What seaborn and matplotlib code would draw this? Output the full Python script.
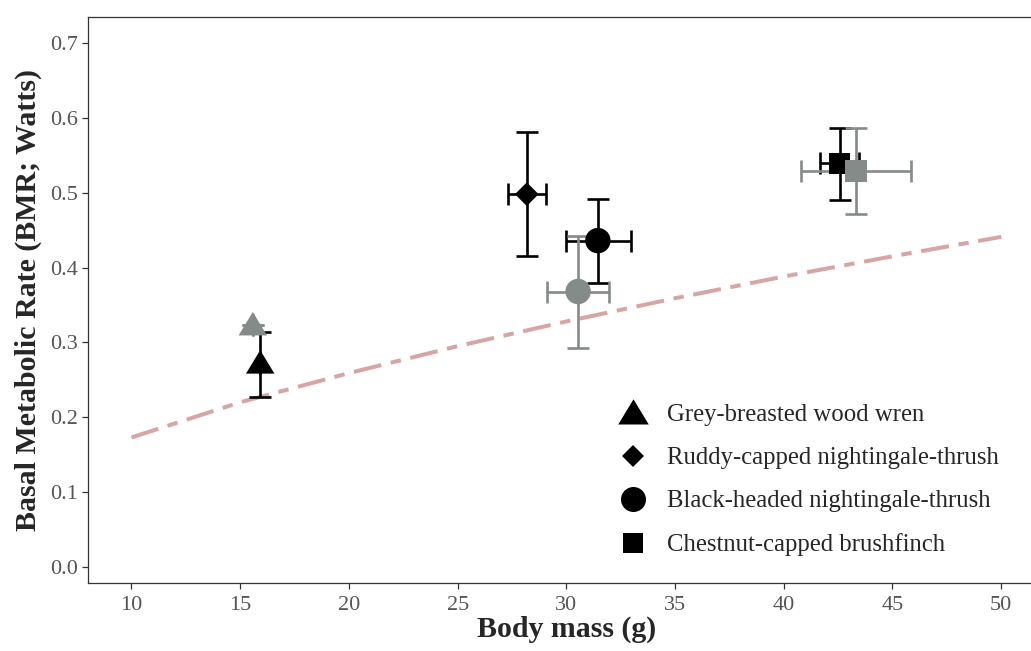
import numpy as np
import pandas as pd
import matplotlib
matplotlib.use("Agg")
import matplotlib.pyplot as plt
import seaborn as sns
from matplotlib.lines import Line2D

# ---------------- data ----------------
species = ["Grey-breasted wood wren", "Ruddy-capped nightingale-thrush",
           "Black-headed nightingale-thrush", "Chestnut-capped brushfinch"]

black_species = species
black_mass = [15.92, 28.18, 31.45, 42.57]
black_mass_lo = [15.92, 27.30, 29.97, 41.65]
black_mass_hi = [15.92, 29.08, 32.99, 43.48]
black_bmr = [0.272, 0.498, 0.436, 0.539]
black_bmr_lo = [0.227, 0.415, 0.379, 0.490]
black_bmr_hi = [0.314, 0.581, 0.492, 0.587]

grey_species = [species[0], species[2], species[3]]
grey_mass = [15.58, 30.54, 43.32]
grey_mass_lo = [15.58, 29.13, 40.79]
grey_mass_hi = [15.58, 31.96, 45.85]
grey_bmr = [0.323, 0.368, 0.529]
grey_bmr_lo = [0.323, 0.293, 0.472]
grey_bmr_hi = [0.323, 0.442, 0.586]

line_mass = [10, 15, 20, 25, 30, 35, 40, 45, 50]
line_bmr = [0.173, 0.220, 0.259, 0.295, 0.328, 0.359, 0.388, 0.415, 0.441]

x_ticks = [10, 15, 20, 25, 30, 35, 40, 45, 50]
y_ticks = [0.0, 0.1, 0.2, 0.3, 0.4, 0.5, 0.6, 0.7]

# ---------------- style ----------------
BLACK = "#000000"
GREY = "#858B88"
LINE_COL = "#D6A6A6"
AXIS_COL = "#333333"
TICKLAB_COL = "#555555"

sns.set_style("white")
plt.rcParams["font.family"] = ["Liberation Serif", "DejaVu Serif"]

tri = [(-1.0, -0.72), (1.0, -0.72), (0.0, 0.93)]
markers = {species[0]: tri, species[1]: "D", species[2]: "o", species[3]: "s"}
sizes = {species[0]: 420, species[1]: 145, species[2]: 335, species[3]: 235}

df = pd.DataFrame({
    "species": list(black_species) + list(grey_species),
    "group": ["black"] * len(black_species) + ["grey"] * len(grey_species),
    "mass": black_mass + grey_mass,
    "bmr": black_bmr + grey_bmr,
})

W, H = 1031, 651
fig = plt.figure(figsize=(W / 100, H / 100), dpi=100)
ax = fig.add_axes([88 / W, 68 / H, (1044.7 - 88) / W, 566 / H])

# reference curve
sns.lineplot(x=line_mass, y=line_bmr, ax=ax, color=LINE_COL, linewidth=2.9,
             linestyle=(0, (7, 2.4, 2.6, 2.4)), legend=False, zorder=1)
ax.lines[-1].set_dash_capstyle("butt")

# error bars
for mass, lo, hi, bmr, blo, bhi, col in [
    (black_mass, black_mass_lo, black_mass_hi, black_bmr, black_bmr_lo, black_bmr_hi, BLACK),
    (grey_mass, grey_mass_lo, grey_mass_hi, grey_bmr, grey_bmr_lo, grey_bmr_hi, GREY),
]:
    m = np.array(mass); b = np.array(bmr)
    ax.errorbar(m, b, yerr=[b - np.array(blo), np.array(bhi) - b],
                fmt="none", ecolor=col, elinewidth=1.9, capsize=8, capthick=1.9, zorder=2)
    ax.errorbar(m, b, xerr=[m - np.array(lo), np.array(hi) - m],
                fmt="none", ecolor=col, elinewidth=1.9, capsize=8, capthick=1.9, zorder=2)

sns.scatterplot(data=df, x="mass", y="bmr", hue="group", style="species",
                size="species", sizes=sizes, markers=markers,
                palette={"black": BLACK, "grey": GREY}, linewidth=0,
                ax=ax, legend=False, zorder=3)

ax.set_xlim(8.0, 52.0)
ax.set_ylim(-0.0214, 0.7347)
ax.set_xticks(x_ticks)
ax.set_xticklabels([str(v) for v in x_ticks])
ax.set_yticks(y_ticks)
ax.set_yticklabels([f"{v:.1f}" for v in y_ticks])

for s in ["top", "left", "bottom"]:
    ax.spines[s].set_color(AXIS_COL)
    ax.spines[s].set_linewidth(0.9)
ax.spines["right"].set_visible(False)

ax.tick_params(axis="both", direction="out", length=4, width=0.9, color=AXIS_COL,
               labelcolor=TICKLAB_COL, labelsize=16, pad=3,
               bottom=True, left=True)
ax.tick_params(axis="x", pad=5)

ax.set_xlabel("Body mass (g)", fontsize=21.5, fontweight="bold", labelpad=1)
ax.set_ylabel("Basal Metabolic Rate (BMR; Watts)", fontsize=21.5, fontweight="bold", labelpad=6)

handles = [
    Line2D([], [], marker=tri, color=BLACK, linestyle="none", markersize=22, markeredgewidth=0),
    Line2D([], [], marker="D", color=BLACK, linestyle="none", markersize=11.5, markeredgewidth=0),
    Line2D([], [], marker="o", color=BLACK, linestyle="none", markersize=18, markeredgewidth=0),
    Line2D([], [], marker="s", color=BLACK, linestyle="none", markersize=15, markeredgewidth=0),
]
leg = ax.legend(handles, species, frameon=False, fontsize=17.8, loc="upper left",
                bbox_to_anchor=(614 / W, (H - 404) / H), bbox_transform=fig.transFigure,
                borderpad=0, borderaxespad=0, handlelength=1.5, handletextpad=0.64,
                labelspacing=0.84)

fig.savefig("out.png", dpi=100)
